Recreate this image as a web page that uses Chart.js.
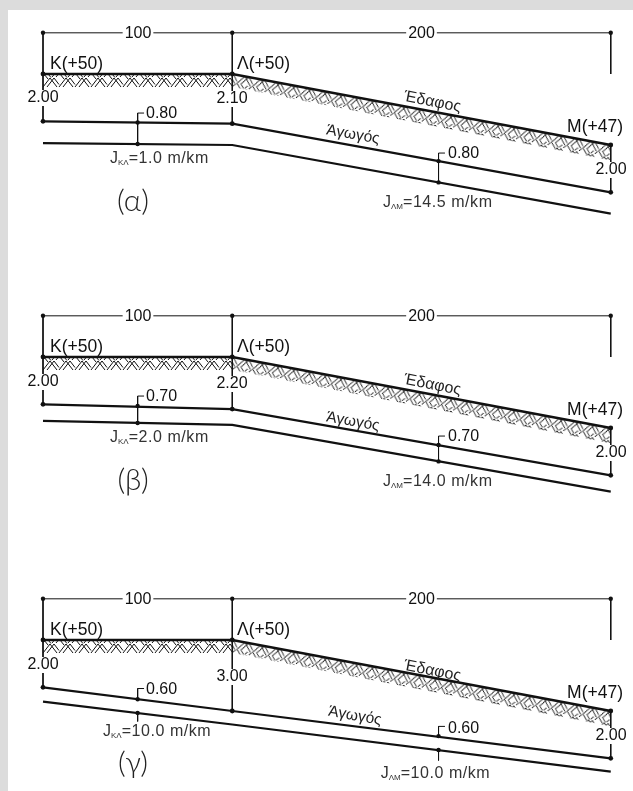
<!DOCTYPE html>
<html><head><meta charset="utf-8">
<script src="https://cdn.jsdelivr.net/npm/chart.js@4"></script>
<style>
html,body{margin:0;padding:0;width:633px;height:791px;overflow:hidden;background:#dcdcdc}
#paper{position:absolute;left:8px;top:10px;right:0;bottom:0;background:#fff}
canvas{position:absolute;left:0}
</style></head><body><div id="paper"></div>
<script>
// Stations along the sewer (m) and levels (m)
const stations=[0,100,300];
const groundLevels=[50,50,47];
const hatchLevels=[49.45,49.45,46.36];
const dimensionLevel=51.74;
const markStations=[50,209];

const pipeTopA=[48,47.9,45];
const pipeBottomA=[47.08,47.0,44.1];
const markTopA=[47.95,46.32];
const markBottomA=[47.04,45.42];
const tickTopA=[48.35,46.66];

const pipeTopB=[48,47.8,45];
const pipeBottomB=[47.3,47.13,44.31];
const markTopB=[47.93,46.28];
const markBottomB=[47.21,45.59];
const tickTopB=[48.35,46.66];

const pipeTopC=[48,47,45];
const pipeBottomC=[47.4,46.43,44.44];
const markTopC=[47.5,45.94];
const markBottomC=[46.92,45.35];
const tickTopC=[47.95,46.35];
const tickBottomC=[46.56,44.91];

const spanLabels=['100','200'];
const nodeLabels=['K(+50)','Λ(+50)','M(+47)'];
const depthLabelsA=['2.00','2.10','2.00'];
const depthLabelsB=['2.00','2.20','2.00'];
const depthLabelsC=['2.00','3.00','2.00'];
const diameterLabelsA=['0.80','0.80'];
const diameterLabelsB=['0.70','0.70'];
const diameterLabelsC=['0.60','0.60'];
const slopeLabelsA=['=1.0 m/km','=14.5 m/km'];
const slopeLabelsB=['=2.0 m/km','=14.0 m/km'];
const slopeLabelsC=['=10.0 m/km','=10.0 m/km'];
const slopeSubscripts=['ΚΛ','ΛΜ'];
const groundLabel='Έδαφος', pipeLabel='Άγωγός';
const panelLabels=['(α)','(β)','(γ)'];

const FONT='"Liberation Sans", Arial, sans-serif';
const INK='#111';
const PX_X=1.8925, PX_Y=23.67, H=215;

function makeHatch(ctx,angle){
  const W=16,T=13;
  const t=document.createElement('canvas');t.width=W;t.height=T;
  const c=t.getContext('2d');c.fillStyle='#fff';c.fillRect(0,0,W,T);
  c.strokeStyle='#111';c.lineWidth=1;c.lineCap='butt';
  const stroke=(x1,y1,x2,y2)=>{
    [-W,0,W].forEach(o=>{c.beginPath();c.moveTo(x1+o,y1);c.lineTo(x2+o,y2);c.stroke();});
  };
  stroke(0,13,7,4);stroke(4,13,11,4);
  stroke(7,4,14,13);stroke(11,4,16,10.5);
  stroke(1,0,5,5);stroke(5,0,8,3.5);stroke(9,3,11.5,0);stroke(13,3,15.5,0);
  const p=ctx.createPattern(t,'repeat');
  p.setTransform(new DOMMatrix().translate(43,64).rotate(angle));
  return p;
}
const pts=(xs,ys)=>xs.map((x,i)=>({x,y:ys[i]}));

function line(data,width,dots){return {data,borderColor:INK,borderWidth:width,pointRadius:dots||0,
  pointBackgroundColor:INK,pointBorderWidth:0,tension:0,fill:false,clip:false};}

const textPlugin={id:'texts',afterDatasetsDraw(chart,args,o){
  const c=chart.ctx,top=o.top;
  o.items.forEach(l=>{
    c.save();
    c.translate(l.x,l.y-top);
    if(l.rot)c.rotate(l.rot*Math.PI/180);
    c.font=l.font||('16px '+FONT);
    c.textBaseline='middle';c.textAlign=l.align||'center';
    if(l.halo){const w=c.measureText(l.text).width;
      c.fillStyle='#fff';c.fillRect(-w/2-2,-8,w+4,16);}
    c.fillStyle=l.color||INK;
    c.fillText(l.text,0,0);
    c.restore();
  });
  (o.slopes||[]).forEach(s=>{
    c.save();c.fillStyle='#333';c.textBaseline='alphabetic';c.textAlign='left';
    const y=s.y-top+5.5;let x=s.x;
    c.font='16px '+FONT;c.fillText('J',x,y);x+=c.measureText('J').width;
    c.font='8px '+FONT;c.fillText(s.sub,x,y+2);x+=c.measureText(s.sub).width;
    c.font='16px '+FONT;c.letterSpacing='0.55px';c.fillText(s.text,x,y);
    c.restore();
  });
}};

function panel(i,cfg){
  const top=10+283*i;
  const cv=document.createElement('canvas');cv.width=633;cv.height=H;
  cv.style.top=top+'px';cv.style.width='633px';cv.style.height=H+'px';
  document.body.appendChild(cv);
  const ctx=cv.getContext('2d');
  const yMax=50+64/PX_Y;
  const ds=[];
  ds.push(line(pts(stations,[dimensionLevel,dimensionLevel,dimensionLevel]),1,2.2));
  stations.forEach(s=>ds.push(line([{x:s,y:dimensionLevel},{x:s,y:50}],1)));
  stations.forEach((s,k)=>ds.push(line([{x:s,y:groundLevels[k]},{x:s,y:cfg.pipeTop[k]}],1)));
  ds.push(line(pts(stations,groundLevels),2.6,2.4));
  ds.push(line(pts(stations,cfg.pipeTop),2.2,2.4));
  ds.push(line(pts(stations,cfg.pipeBottom),2.2));
  markStations.forEach((s,k)=>{
    ds.push(line([{x:s+3.4,y:cfg.tickTop[k]},{x:s,y:cfg.tickTop[k]},{x:s,y:cfg.markTop[k]}],1));
    if(cfg.tickBottom) ds.push(line([{x:s,y:cfg.markBottom[k]},{x:s,y:cfg.tickBottom[k]}],1));
    else ds.push(line([{x:s,y:cfg.markTop[k]},{x:s,y:cfg.markBottom[k]}],1));
  });
  ds.push(line(pts(markStations,cfg.markTop),0,2.2));
  ds.push(line(pts(markStations,cfg.markBottom),0,2.2));
  const strip=(a,b,angle)=>{
    const n=ds.length;
    ds.push({data:[{x:stations[a],y:groundLevels[a]},{x:stations[b],y:groundLevels[b]}],borderWidth:0,pointRadius:0,fill:false,tension:0});
    ds.push({data:[{x:stations[a],y:hatchLevels[a]},{x:stations[b],y:hatchLevels[b]}],borderWidth:0,pointRadius:0,tension:0,
      fill:{target:n},backgroundColor:makeHatch(ctx,angle)});
  };
  strip(0,1,0);strip(1,2,10.6);

  const g=(d)=>d+283*i;
  const items=[
    {text:spanLabels[0],x:138,y:g(33.5),halo:true},
    {text:spanLabels[1],x:421.5,y:g(33.5),halo:true},
    {text:nodeLabels[0],x:50,y:g(64),align:'left',font:'17.5px '+FONT},
    {text:nodeLabels[1],x:237,y:g(64),align:'left',font:'17.5px '+FONT},
    {text:nodeLabels[2],x:623,y:g(127),align:'right',font:'17.5px '+FONT},
    {text:groundLabel,x:432.5,y:g(102)+cfg.gdy,rot:11,font:'16px '+FONT,color:'#222'},
    {text:pipeLabel,x:cfg.px,y:cfg.py,rot:10,font:'15.5px '+FONT,color:'#222'},
    {text:cfg.depth[0],x:43,y:cfg.dy[0],halo:true},
    {text:cfg.depth[1],x:232,y:cfg.dy[1],halo:true},
    {text:cfg.depth[2],x:611,y:cfg.dy[2],halo:true},
    {text:cfg.dia[0],x:146,y:cfg.ddy[0],align:'left'},
    {text:cfg.dia[1],x:448,y:cfg.ddy[1],align:'left'},
    {text:panelLabels[i],x:133,y:cfg.ly,font:'300 30px Lato, '+FONT,color:'#222'}
  ];
  new Chart(cv,{type:'line',data:{datasets:ds},plugins:[textPlugin],options:{
    responsive:false,animation:false,devicePixelRatio:1,
    layout:{padding:0,autoPadding:false},
    scales:{x:{type:'linear',display:false,min:-43/PX_X,max:(633-43)/PX_X},
            y:{type:'linear',display:false,min:yMax-H/PX_Y,max:yMax}},
    plugins:{legend:{display:false},tooltip:{enabled:false},
      texts:{top,items,slopes:cfg.slopes}}
  }});
}

panel(0,{pipeTop:pipeTopA,pipeBottom:pipeBottomA,markTop:markTopA,markBottom:markBottomA,tickTop:tickTopA,
  depth:depthLabelsA,dy:[98,99,170],dia:diameterLabelsA,ddy:[114,153.5],gdy:0,px:353,py:134.7,ly:201,
  slopes:[{x:110,y:157,sub:slopeSubscripts[0],text:slopeLabelsA[0]},{x:383,y:201,sub:slopeSubscripts[1],text:slopeLabelsA[1]}]});
panel(1,{pipeTop:pipeTopB,pipeBottom:pipeBottomB,markTop:markTopB,markBottom:markBottomB,tickTop:tickTopB,
  depth:depthLabelsB,dy:[382,384,453],dia:diameterLabelsB,ddy:[396.7,436.7],gdy:0,px:353,py:421.7,ly:480,
  slopes:[{x:110,y:436,sub:slopeSubscripts[0],text:slopeLabelsB[0]},{x:383,y:480,sub:slopeSubscripts[1],text:slopeLabelsB[1]}]});
panel(2,{pipeTop:pipeTopC,pipeBottom:pipeBottomC,markTop:markTopC,markBottom:markBottomC,tickTop:tickTopC,tickBottom:tickBottomC,
  depth:depthLabelsC,dy:[665,677,736],dia:diameterLabelsC,ddy:[690,729],gdy:3,px:355,py:716,ly:763,
  slopes:[{x:103,y:730.7,sub:slopeSubscripts[0],text:slopeLabelsC[0]},{x:380.7,y:772.7,sub:slopeSubscripts[1],text:slopeLabelsC[1]}]});
</script></body></html>
